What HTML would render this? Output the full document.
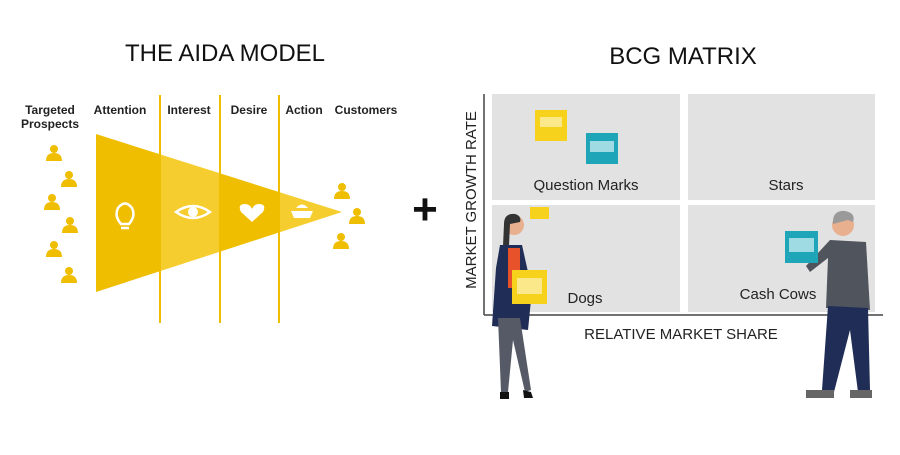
<!DOCTYPE html>
<html><head><style>
body{margin:0;width:900px;height:450px;background:#fff;overflow:hidden;font-family:"Liberation Sans",sans-serif}
</style></head><body>
<svg width="900" height="450" viewBox="0 0 900 450" xmlns="http://www.w3.org/2000/svg" font-family="Liberation Sans, sans-serif">
<defs>
<g id="p"><circle cx="0" cy="-5" r="4" fill="#f0be00"/><path d="M-8,7 Q-8,-1 0,-1 Q8,-1 8,7 Z" fill="#f0be00"/></g>
<clipPath id="tri"><polygon points="96,134 342,212 96,292"/></clipPath>
</defs>
<text x="225" y="61" font-size="24" text-anchor="middle" fill="#111">THE AIDA MODEL</text>
<text x="683" y="64" font-size="24" text-anchor="middle" fill="#111">BCG MATRIX</text>
<g font-size="12" font-weight="bold" fill="#222">
<text x="50" y="114" text-anchor="middle">Targeted</text>
<text x="50" y="128" text-anchor="middle">Prospects</text>
<text x="120" y="114" text-anchor="middle">Attention</text>
<text x="189" y="114" text-anchor="middle">Interest</text>
<text x="249" y="114" text-anchor="middle">Desire</text>
<text x="304" y="114" text-anchor="middle">Action</text>
<text x="366" y="114" text-anchor="middle">Customers</text>
</g>
<g clip-path="url(#tri)">
<rect x="96" y="130" width="64" height="170" fill="#f0be00"/>
<rect x="160" y="130" width="60" height="170" fill="#f6cd2e"/>
<rect x="220" y="130" width="59" height="170" fill="#f0be00"/>
<rect x="279" y="130" width="63" height="170" fill="#f6cd2e"/>
</g>
<g stroke="#f0be00" stroke-width="2"><line x1="160" y1="95" x2="160" y2="323"/><line x1="220" y1="95" x2="220" y2="323"/><line x1="279" y1="95" x2="279" y2="323"/></g>
<g fill="none" stroke="#fff" stroke-width="2.5">
<path d="M121,224 Q114,216 118,208 Q125,199 132,208 Q136,216 129,224 Z"/>
<line x1="121" y1="228" x2="129" y2="228"/>
<path d="M176,212 Q193,200 210,212 Q193,224 176,212 Z"/>
</g>
<circle cx="193" cy="212" r="5" fill="#fff"/>
<path d="M252,222 L241,212 Q237,204 245,204 Q250,204 252,209 Q254,204 259,204 Q267,204 263,212 Z" fill="#fff"/>
<path d="M291,211 L313,211 L310,218 L294,218 Z M296,208 Q302,201 308,208 Z" fill="#fff"/>
<use href="#p" x="54" y="154"/><use href="#p" x="69" y="180"/><use href="#p" x="52" y="203"/><use href="#p" x="70" y="226"/><use href="#p" x="54" y="250"/><use href="#p" x="69" y="276"/>
<use href="#p" x="342" y="192"/><use href="#p" x="357" y="217"/><use href="#p" x="341" y="242"/>
<text x="425" y="224" font-size="44" font-weight="bold" text-anchor="middle" fill="#111">+</text>
<!-- matrix -->
<rect x="492" y="94" width="188" height="106" fill="#e2e2e2"/>
<rect x="688" y="94" width="187" height="106" fill="#e2e2e2"/>
<rect x="492" y="205" width="188" height="107" fill="#e2e2e2"/>
<rect x="688" y="205" width="187" height="107" fill="#e2e2e2"/>
<line x1="484" y1="94" x2="484" y2="315" stroke="#444" stroke-width="1.5"/>
<line x1="484" y1="315" x2="883" y2="315" stroke="#444" stroke-width="1.5"/>
<g font-size="15" fill="#222" text-anchor="middle">
<text x="586" y="190">Question Marks</text>
<text x="786" y="190">Stars</text>
<text x="585" y="303">Dogs</text>
<text x="778" y="299">Cash Cows</text>
<text x="681" y="339">RELATIVE MARKET SHARE</text>
<text transform="translate(476,200) rotate(-90)">MARKET GROWTH RATE</text>
</g>
<rect x="535" y="110" width="32" height="31" fill="#f6d21c"/><rect x="540" y="117" width="22" height="10" fill="#fbe88a"/>
<rect x="586" y="133" width="32" height="31" fill="#1ea5b8"/><rect x="590" y="141" width="24" height="11" fill="#9fdbe3"/>
<rect x="530" y="207" width="19" height="12" fill="#f6d21c"/>
<!-- woman -->
<circle cx="514" cy="225" r="10" fill="#e8b08e"/>
<path d="M504,224 Q504,213 515,214 Q522,216 520,222 L510,224 L509,246 L503,246 Z" fill="#333"/>
<path d="M500,245 L522,245 L532,290 L528,330 L492,326 L496,268 Z" fill="#1f2d57"/>
<rect x="508" y="248" width="12" height="40" fill="#e8522b"/>
<path d="M498,318 L520,318 L531,390 L525,392 L513,340 L508,392 L501,392 Z" fill="#555a66"/>
<path d="M500,392 L509,392 L509,399 L500,399 Z M523,390 L531,392 L533,398 L524,398 Z" fill="#111"/>
<rect x="512" y="270" width="35" height="34" fill="#f6d21c"/><rect x="517" y="278" width="25" height="16" fill="#fbe88a"/>
<!-- man -->
<circle cx="843" cy="225" r="11" fill="#e8b08e"/>
<path d="M833,224 Q832,210 845,211 Q856,213 853,222 L848,220 Z" fill="#9a9a9a"/>
<path d="M830,240 L866,242 L870,310 L826,308 L828,258 L810,272 L806,266 Z" fill="#50545c"/>
<path d="M828,306 L868,308 L870,390 L858,392 L850,330 L834,392 L822,390 Z" fill="#1f2d57"/>
<path d="M806,390 L834,390 L834,398 L806,398 Z M850,390 L872,390 L872,398 L850,398 Z" fill="#666"/>
<rect x="785" y="231" width="33" height="32" fill="#1ea5b8"/><rect x="789" y="238" width="25" height="14" fill="#9fdbe3"/>
</svg>
</body></html>
